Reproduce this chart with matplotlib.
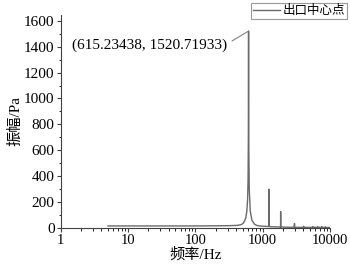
import numpy as np
import matplotlib
matplotlib.use("Agg")
import matplotlib.pyplot as plt
from matplotlib.ticker import LogLocator, MultipleLocator, NullFormatter

plt.rcParams['font.family'] = ['Liberation Serif', 'Noto Sans CJK SC']
plt.rcParams['font.size'] = 11

# spectrum at the outlet centre point
freq = [5, 10, 20, 50, 100, 200, 300, 400, 440, 480, 510, 537, 560, 580, 595, 605,
        610, 613, 615.23438, 617, 621, 630, 652, 690, 753, 800, 860, 1000, 1100,
        1200, 1225, 1230, 1235, 1300, 1500, 1800, 1840, 1845, 1850, 2000, 2500,
        2950, 2960, 2970, 3500, 4000, 4050, 4100, 5000, 5500, 5550, 5600, 6500,
        6550, 6600, 7500, 7550, 7600, 8500, 8550, 8600, 9500, 10000]
amp = [16, 16, 16, 16, 16, 17, 18, 20, 22, 27, 36, 54, 80, 130, 220, 380,
       650, 1000, 1520.71933, 1000, 600, 300, 130, 60, 30, 22, 17, 14, 13,
       12, 12, 300, 12, 10, 9, 8, 8, 126, 8, 7, 6,
       6, 35, 6, 5, 5, 14, 5, 5, 5, 12, 5, 5,
       11, 5, 5, 10, 5, 4, 9, 4, 4, 4]
peak_f = 615.23438
peak_a = 1520.71933

fig = plt.figure(figsize=(3.5, 2.67), dpi=100)
ax = fig.add_axes([0.174, 0.146, 0.769, 0.798])

ax.plot(freq, amp, color='#6a6a6a', lw=1.0, label='出口中心点')

ax.set_xscale('log')
ax.set_xlim(1, 10000)
ax.set_ylim(0, 1645)
ax.yaxis.set_major_locator(MultipleLocator(200))
ax.yaxis.set_minor_locator(MultipleLocator(100))
ax.xaxis.set_minor_locator(LogLocator(base=10, subs=np.arange(2, 10)))
ax.xaxis.set_minor_formatter(NullFormatter())
ax.set_xticks([1, 10, 100, 1000, 10000])
ax.set_xticklabels(['1', '10', '100', '1000', '10000'])

for s in ['top', 'right']:
    ax.spines[s].set_visible(False)
for s in ['left', 'bottom']:
    ax.spines[s].set_color('#404040')
ax.tick_params(direction='out', length=3, width=0.8, colors='#404040', labelcolor='black', pad=1.5)
ax.tick_params(axis='x', labelsize=10.5)
ax.tick_params(which='minor', length=1.8, width=0.6)

ax.set_xlabel('频率/Hz', labelpad=0)
ax.set_ylabel('振幅/Pa', labelpad=1)

ax.annotate('(615.23438, 1520.71933)', xy=(peak_f, peak_a), xytext=(1.45, 1410),
            ha='left', va='center', fontsize=11,
            arrowprops=dict(arrowstyle='-', color='#808080', lw=0.8, shrinkA=2, shrinkB=0,
                            relpos=(1.0, 0.6)))

leg = ax.legend(loc='upper right', bbox_to_anchor=(347 / 350, 1 - 3 / 267),
                bbox_transform=fig.transFigure, frameon=True, fancybox=False,
                handlelength=2.2, handletextpad=0.2, borderpad=0.15, borderaxespad=0,
                fontsize=9)
leg.get_frame().set_edgecolor('#808080')
leg.get_frame().set_linewidth(0.8)

fig.savefig('out.png', dpi=100)
